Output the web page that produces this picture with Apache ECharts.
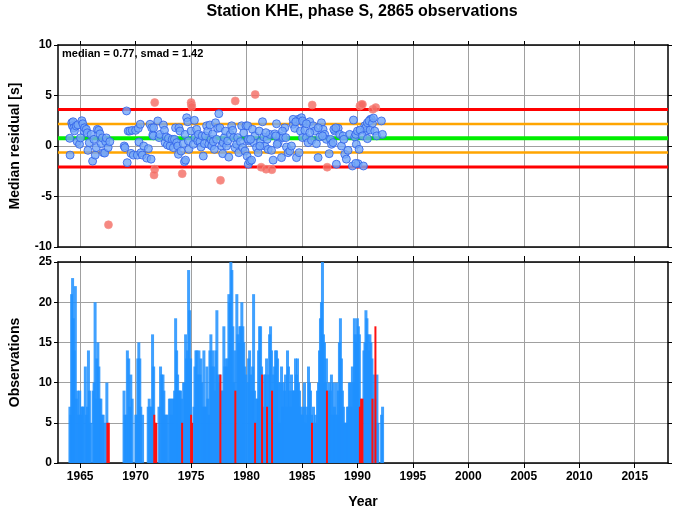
<!DOCTYPE html>
<html>
<head>
<meta charset="utf-8">
<script src="https://cdn.jsdelivr.net/npm/echarts@6/dist/echarts.min.js"></script>
<style>html,body{margin:0;padding:0;background:#fff;}#c{width:674px;height:511px;}</style>
</head>
<body>
<div id="c"></div>
<script>
// ---- data ----
const title = 'Station KHE, phase S, 2865 observations';
const median = 0.77;
const smad = 1.42;
const xTicks = [1965, 1970, 1975, 1980, 1985, 1990, 1995, 2000, 2005, 2010, 2015];

// median residual per bin [year, seconds] (inside 2*smad)
const residBlue = [
[1964.09,-0.9],[1964.06,0.76],[1964.24,2.3],[1964.3,2.0],[1964.36,2.4],[1964.42,1.8],[1964.48,1.5],[1964.64,1.98],[1964.73,0.43],[1964.79,2.1],[1964.94,0.17],[1965.03,0.8],[1965.15,2.5],[1965.24,2.2],[1965.33,1.5],[1965.39,1.8],[1965.55,1.65],[1965.64,1.3],[1965.7,-0.43],[1965.82,0.33],[1965.99,1.15],[1966.12,-1.5],[1966.24,0.66],[1966.36,-0.9],[1966.45,-0.16],[1966.55,1.65],[1966.67,1.55],[1966.79,1.2],[1966.91,0.23],[1967.0,0.8],[1967.09,-0.66],[1967.21,-0.7],[1967.3,0.43],[1967.36,0.8],[1967.52,-0.16],[1967.67,0.43],
[1969.18,3.47],[1968.97,0.0],[1969.03,-0.16],[1969.24,-1.65],[1969.33,1.48],[1969.48,1.48],[1969.58,-0.73],[1969.7,1.55],[1969.79,-0.9],[1970.0,1.55],[1970.15,-0.9],[1970.24,1.75],[1970.3,0.4],[1970.42,2.15],[1970.48,-0.66],[1970.6,-0.9],[1970.73,0.0],[1971.0,-1.2],[1971.15,-0.26],[1971.3,2.15],[1971.39,-1.3],[1971.45,1.8],[1971.55,1.1],[1971.6,1.0],[1971.62,1.8],
[1972.0,2.48],[1972.12,0.83],[1972.2,1.15],[1972.5,2.08],[1972.6,1.55],[1972.66,0.33],[1972.75,0.9],[1972.87,0.1],[1972.96,0.76],[1973.1,0.0],[1973.3,0.66],[1973.4,-0.16],[1973.5,0.66],[1973.6,1.8],[1973.7,0.33],[1973.8,0.0],[1973.86,-0.82],[1973.9,1.8],[1974.0,1.48],[1974.1,-0.5],[1974.3,0.23],[1974.4,-1.55],[1974.46,1.15],[1974.5,-1.4],[1974.6,2.8],[1974.7,2.4],[1974.76,0.5],[1974.8,-0.33],[1975.0,1.48],[1975.2,0.17],[1975.3,2.54],[1975.36,0.82],[1975.5,1.65],[1975.6,0.5],[1975.66,1.15],[1975.8,0.43],[1975.9,-0.1],[1976.0,1.0],[1976.1,-1.0],[1976.2,0.23],[1976.3,1.0],[1976.4,2.0],[1976.5,1.48],[1976.6,0.17],[1976.7,2.08],[1976.8,0.66],[1976.86,0.0],[1976.95,1.2],[1977.0,0.43],[1977.1,-0.33],[1977.2,2.3],[1977.3,0.66],[1977.4,1.75],[1977.5,3.2],[1977.6,1.8],[1977.76,0.0],[1977.85,-0.76],[1977.9,0.33],[1978.0,0.83],[1978.1,1.48],[1978.2,0.0],[1978.3,0.5],[1978.4,-1.1],[1978.54,1.15],[1978.66,2.0],[1978.75,1.55],[1978.84,0.83],[1978.96,-0.16],[1979.1,0.17],[1979.2,0.83],[1979.3,-0.66],[1979.45,0.43],[1979.56,2.0],[1979.65,-0.16],[1979.75,1.3],[1979.86,-0.5],[1979.95,2.0],[1980.05,-1.0],[1980.16,-1.8],[1980.2,0.5],
[1980.15,0.66],[1980.1,2.0],[1980.3,-1.5],[1980.45,-1.4],[1980.54,1.65],[1980.66,0.33],[1980.75,1.0],[1980.9,-0.16],[1981.05,-0.66],[1981.14,1.48],[1981.26,0.43],[1981.44,2.4],[1981.56,0.9],[1981.65,0.0],[1981.86,0.66],[1981.95,-0.33],[1982.1,1.15],[1982.25,-0.43],[1982.4,-1.4],[1982.55,1.2],[1982.7,2.2],[1982.85,0.33],[1983.0,1.0],[1983.15,-1.15],[1983.3,0.83],[1983.45,1.8],[1983.6,-0.1],[1983.75,-0.66],[1983.9,-0.5],[1984.05,0.0],[1984.2,2.15],[1984.35,1.75],[1984.5,-1.15],[1984.65,2.64],[1984.74,-0.66],[1984.86,1.48],[1984.95,2.8],[1985.05,0.83],[1985.16,2.3],[1985.26,1.55],[1985.4,0.83],[1985.55,0.33],[1985.7,2.4],[1985.86,0.56],[1986.0,2.0],[1986.15,1.48],[1986.3,0.23],[1986.45,-1.15],[1986.6,0.9],[1986.75,2.3],[1986.9,1.65],[1987.05,1.15],[1987.2,0.66],[1987.45,-0.76],[1987.57,0.66],[1987.66,0.17],[1987.8,0.33],[1987.96,1.48],[1988.1,-1.8],[1988.26,1.75],[1988.4,1.15],[1988.56,0.0],[1988.7,1.0],[1988.86,-0.82],[1989.0,-1.3],[1989.15,-0.43],[1989.3,1.15],[1989.55,-1.98],[1989.64,2.57],[1989.76,0.9],[1989.9,0.17],[1990.06,-1.75],[1990.54,-1.98],[1990.66,2.0],[1990.8,1.48],[1991.17,2.64],
[1984.2,2.64],[1984.44,2.4],[1985.05,2.48],[1985.4,2.2],[1985.7,1.32],[1986.46,1.8],[1986.85,1.0],[1987.87,1.65],[1988.05,1.8],[1988.77,0.66],[1989.85,1.15],[1990.75,1.8],[1991.26,2.64],[1982.64,1.0],[1983.24,1.48],[1982.76,0.17],[1983.54,0.83],[1981.74,1.32],[1980.36,0.66],[1981.2,0.0],
[1989.85,-1.72],[1990.0,1.48],[1990.15,-0.33],[1990.24,1.58],[1990.45,1.0],[1990.9,0.73],[1990.9,2.3],[1991.05,2.48],[1991.14,1.58],[1991.35,2.24],[1991.44,2.77],[1991.56,1.48],[1991.74,1.0],[1992.16,2.48],[1992.25,1.15]
];
// outliers (outside 2*smad)
const residRed = [
[1967.55,-7.8],[1971.72,-2.3],[1971.66,-2.87],[1971.72,4.3],[1974.2,-2.74],[1975.0,4.3],[1975.03,4.1],[1975.06,3.9],[1977.65,-3.4],[1978.98,4.46],[1980.78,5.1],[1981.32,-2.1],[1981.76,-2.3],[1982.28,-2.35],[1985.92,4.06],[1987.27,-2.1],[1990.22,3.96],[1990.36,4.1],[1990.45,4.12],[1991.38,3.63],[1991.65,3.8]
];

// observations per bin [year, count]
const obsBlue = [
[1964.03,7],[1964.12,6],[1964.18,21],[1964.27,23],[1964.33,18],[1964.42,14],[1964.52,22],[1964.61,8],[1964.73,9],[1964.82,6],[1964.91,9],[1965.0,6],[1965.09,7],[1965.18,7],[1965.24,7],[1965.42,12],[1965.52,6],[1965.61,7],[1965.70,14],[1965.79,9],[1965.88,5],[1966.12,9],[1966.21,10],[1966.30,20],[1966.36,8],[1966.45,13],[1966.55,15],[1966.64,12],[1966.73,8],[1966.82,8],[1966.94,6],[1967.03,6],[1967.15,5],[1967.36,10],
[1968.91,9],[1969.0,6],[1969.12,6],[1969.21,14],[1969.33,13],[1969.42,7],[1969.52,11],[1969.64,8],[1969.97,6],[1970.06,6],[1970.15,13],[1970.24,15],[1970.33,13],[1970.42,7],[1970.58,6],[1971.09,7],[1971.18,8],[1971.27,7],[1971.39,7],[1971.48,16],[1971.58,12],
[1972.06,7],[1972.2,12],[1972.3,11],[1972.42,11],[1972.5,9],[1972.6,6],[1972.72,6],[1972.8,6],[1973.0,8],[1973.1,8],[1973.2,6],[1973.29,8],[1973.38,8],[1973.47,9],[1973.56,18],[1973.65,14],[1973.74,11],[1973.83,9],[1973.92,9],[1974.0,9],[1974.1,8],[1974.28,10],[1974.37,10],[1974.46,16],[1974.55,13],[1974.64,14],[1974.73,24],[1974.82,19],[1974.91,13],[1975.21,7],[1975.3,12],[1975.39,14],[1975.48,14],[1975.57,11],[1975.66,14],[1975.75,11],[1975.84,13],[1975.93,10],[1976.02,7],[1976.11,14],[1976.2,7],[1976.29,7],[1976.38,12],[1976.47,8],[1976.56,6],[1976.65,14],[1976.74,16],[1976.83,12],[1976.92,14],[1977.01,12],[1977.1,9],[1977.19,14],[1977.28,19],[1977.37,11],[1977.46,10],[1977.55,11],[1977.73,9],[1977.82,9],[1977.91,17],[1978.0,12],[1978.09,13],[1978.18,12],[1978.27,13],[1978.36,21],[1978.45,20],[1978.54,25],[1978.63,24],[1978.72,17],[1978.81,10],[1978.9,14],[1979.08,21],[1979.17,16],[1979.26,15],[1979.35,17],[1979.44,17],[1979.53,20],[1979.62,17],[1979.71,15],[1979.8,12],[1979.89,11],
[1980.05,10],[1980.14,13],[1980.23,14],[1980.32,11],[1980.41,9],[1980.5,12],[1980.59,21],[1980.68,9],[1980.86,8],[1980.95,8],[1981.04,14],[1981.13,17],[1981.22,17],[1981.31,12],[1981.49,7],[1981.58,11],[1981.67,11],[1981.76,13],[1981.94,11],[1982.03,16],[1982.12,17],[1982.21,14],[1982.39,11],[1982.48,12],[1982.57,14],[1982.66,14],[1982.75,13],[1982.84,10],[1982.93,5],[1983.02,10],[1983.11,12],[1983.2,7],[1983.29,10],[1983.38,9],[1983.47,11],[1983.56,7],[1983.65,14],[1983.74,12],[1983.83,9],[1983.92,7],[1984.01,11],[1984.1,9],[1984.19,9],[1984.28,9],[1984.37,13],[1984.46,11],[1984.55,13],[1984.64,10],[1984.73,9],[1984.82,7],[1984.91,6],[1985.0,6],[1985.09,7],[1985.18,10],[1985.27,5],[1985.36,7],[1985.45,6],[1985.54,12],[1985.63,10],[1985.72,9],[1985.81,6],[1985.99,7],[1986.08,5],[1986.17,6],[1986.26,5],[1986.35,9],[1986.44,10],[1986.53,14],[1986.62,18],[1986.71,20],[1986.8,25],[1986.89,16],[1986.98,15],[1987.07,10],[1987.16,13],[1987.34,9],[1987.43,10],[1987.52,9],[1987.61,11],[1987.7,6],[1987.79,10],[1987.88,7],[1987.97,6],[1988.06,10],[1988.15,6],[1988.24,9],[1988.33,15],[1988.42,18],[1988.51,13],[1988.6,9],[1988.69,7],[1988.78,5],[1988.87,5],[1988.96,5],[1989.05,7],[1989.14,7],[1989.23,10],[1989.32,10],[1989.41,7],[1989.5,12],[1989.59,10],[1989.68,18],[1989.77,16],[1989.86,15],[1989.95,18],[1990.04,17],[1990.13,16],
[1990.54,14],[1990.63,15],[1990.72,19],[1990.81,18],[1990.9,16],[1990.99,14],[1991.08,16],[1991.17,15],[1991.26,13],[1991.44,11],[1991.53,8],[1991.71,11],[1991.8,5],[1992.13,6],[1992.22,7]
];
const obsRed = [
[1967.45,5],[1967.58,5],[1971.68,6],[1971.76,5],[1971.85,5],[1974.19,5],[1975.0,6],[1975.09,5],[1977.64,11],[1978.99,9],[1980.77,5],[1981.4,11],[1981.85,7],[1982.3,9],[1985.9,5],[1987.25,9],[1990.22,7],[1990.33,8],[1990.45,8],[1991.35,8],[1991.62,17]
];

// ---- chart ----
const FONT = '"Liberation Sans", Arial, Helvetica, sans-serif';
const X0 = 1963, X1 = 2018;
const refLines = [
  {v: median + 2 * smad, color: '#ff0000', w: 3},
  {v: median - 2 * smad, color: '#ff0000', w: 3},
  {v: median + smad, color: '#ffa500', w: 2.5},
  {v: median - smad, color: '#ffa500', w: 2.5},
  {v: median, color: '#00ee00', w: 4}
];
const labelStyle = {color: '#000', fontFamily: FONT, fontWeight: 'bold', fontSize: 12};
const frame = {show: true, lineStyle: {color: '#000', width: 1.5}};
const grid = {color: '#a0a0a0', width: 1};

function xAx(gi, pos, labels, tickLen) {
  return {
    gridIndex: gi, type: 'value', min: X0, max: X1, position: pos,
    axisLine: Object.assign({onZero: false}, frame),
    axisTick: {show: tickLen > 0, length: tickLen, customValues: xTicks, lineStyle: {color: '#000', width: 1}},
    axisLabel: Object.assign({show: labels, margin: 8, customValues: xTicks,
      formatter: function (v) { return String(v); }}, labelStyle),
    splitLine: {show: pos === 'bottom', lineStyle: grid}
  };
}
function yAx(gi, pos, min, max, labels, name) {
  return {
    gridIndex: gi, type: 'value', min: min, max: max, interval: 5, position: pos,
    axisLine: Object.assign({onZero: false}, frame),
    axisTick: {show: true, length: 4, lineStyle: {color: '#000', width: 1}},
    axisLabel: Object.assign({show: labels, margin: 6}, labelStyle),
    splitLine: {show: pos === 'left', lineStyle: grid},
    name: name || '', nameLocation: 'middle', nameGap: 36,
    nameTextStyle: {color: '#000', fontFamily: FONT, fontWeight: 'bold', fontSize: 14}
  };
}

const series = [];
refLines.forEach(function (r) {
  series.push({
    type: 'line', xAxisIndex: 0, yAxisIndex: 0, silent: true, symbol: 'none', z: 2,
    data: [[X0, r.v], [X1, r.v]], lineStyle: {color: r.color, width: r.w}
  });
});
series.push({
  type: 'scatter', xAxisIndex: 0, yAxisIndex: 0, z: 3, symbolSize: 8, data: residBlue,
  itemStyle: {color: '#74a8f8', borderColor: '#3060e8', borderWidth: 1}
});
series.push({
  type: 'scatter', xAxisIndex: 0, yAxisIndex: 0, z: 3, symbolSize: 8, data: residRed,
  itemStyle: {color: '#f46a62', borderColor: '#f49088', borderWidth: 0.8}
});
series.push({
  type: 'bar', xAxisIndex: 2, yAxisIndex: 2, barWidth: 3, barGap: '-100%', z: 2, data: obsBlue,
  itemStyle: {color: '#1e90ff', opacity: 0.85}
});
series.push({
  type: 'bar', xAxisIndex: 2, yAxisIndex: 2, barWidth: 2, barGap: '-100%', z: 3, data: obsRed,
  itemStyle: {color: '#ff1010'}
});

const chart = echarts.init(document.getElementById('c'), null, {renderer: 'canvas'});
chart.setOption({
  animation: false,
  backgroundColor: '#fff',
  grid: [
    {left: 56, right: 6, top: 45, height: 202},
    {left: 56, right: 6, top: 262, height: 201}
  ],
  xAxis: [
    xAx(0, 'bottom', false, 0),
    xAx(0, 'top', false, 4),
    Object.assign(xAx(1, 'bottom', true, 5), {name: 'Year', nameLocation: 'middle', nameGap: 32,
      nameTextStyle: {color: '#000', fontFamily: FONT, fontWeight: 'bold', fontSize: 14}}),
    xAx(1, 'top', false, 6)
  ],
  yAxis: [
    yAx(0, 'left', -10, 10, true, 'Median residual [s]'),
    yAx(0, 'right', -10, 10, false),
    yAx(1, 'left', 0, 25, true, 'Observations'),
    yAx(1, 'right', 0, 25, false)
  ],
  graphic: [
    {type: 'text', x: 362, y: 12, silent: true,
     style: {text: title, font: 'bold 16px ' + FONT, fill: '#000', align: 'center', verticalAlign: 'middle'}},
    {type: 'text', x: 62, y: 54, silent: true, z: 10,
     style: {text: 'median = ' + median.toFixed(2) + ', smad = ' + smad.toFixed(2), font: 'bold 11px ' + FONT, fill: '#000', align: 'left', verticalAlign: 'middle'}}
  ],
  series: series
});
</script>
</body>
</html>
